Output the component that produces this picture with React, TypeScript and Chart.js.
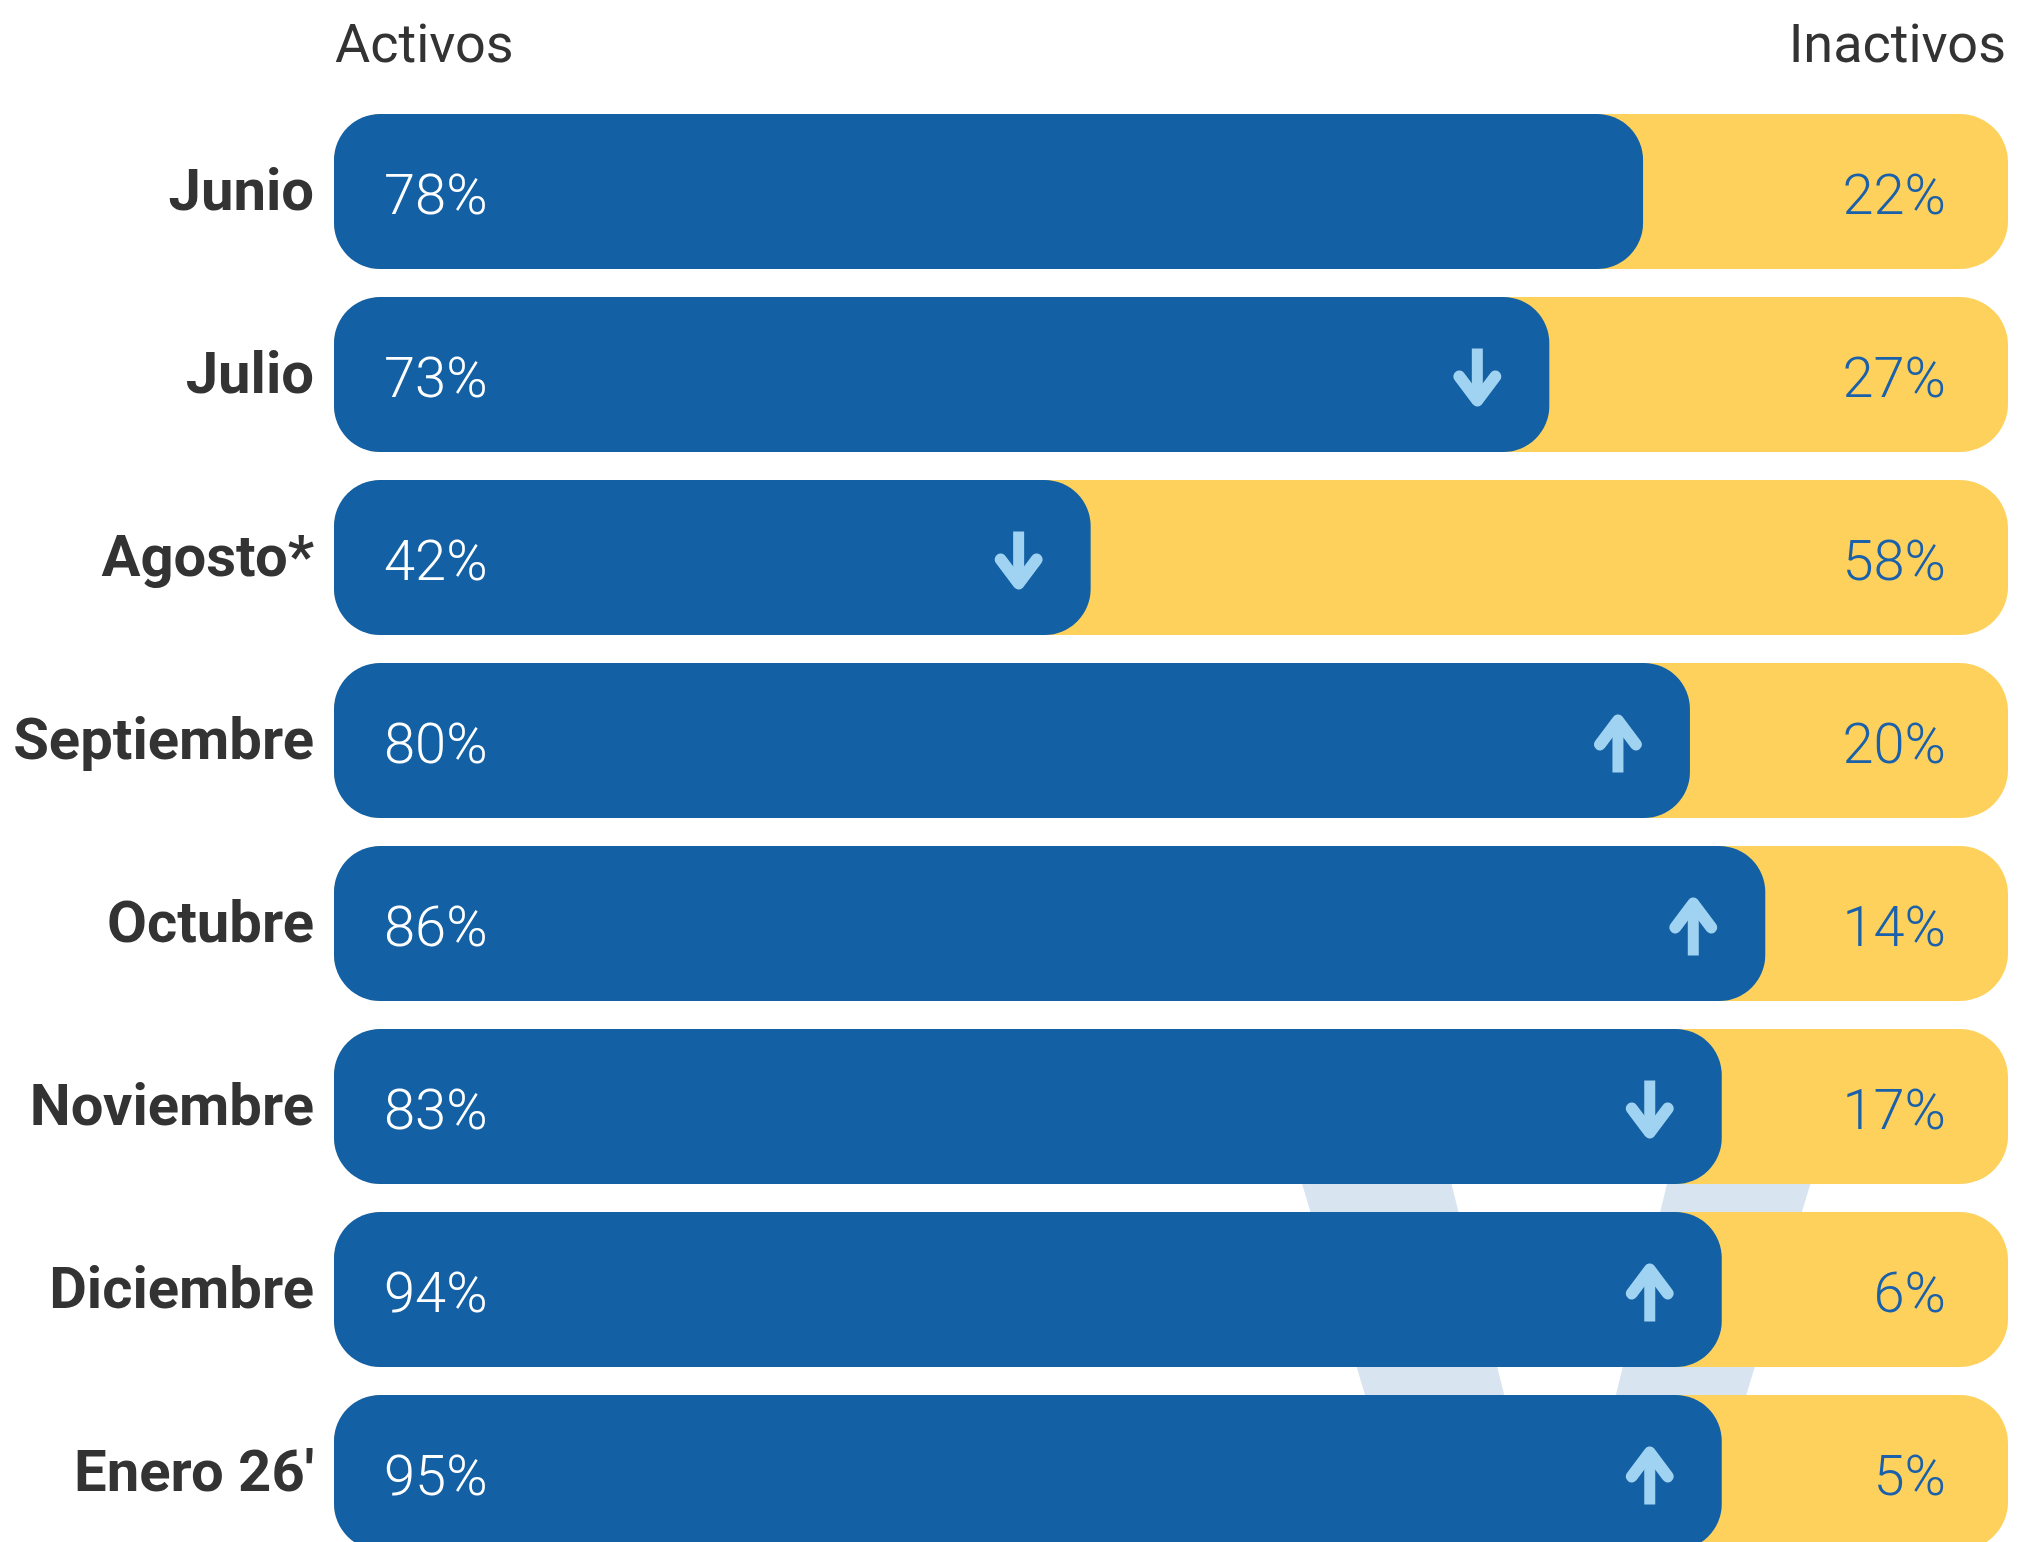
import React, { useEffect, useRef } from 'react';
import { Chart, registerables } from 'chart.js';

Chart.register(...registerables);

// ---- data ----
const categories = ['Junio', 'Julio', 'Agosto*', 'Septiembre', 'Octubre', 'Noviembre', 'Diciembre', "Enero 26'"];
const activosPct = [78, 73, 42, 80, 86, 83, 94, 95];
const inactivosPct = [22, 27, 58, 20, 14, 17, 6, 5];
// bar lengths as drawn in the picture (percent of the full track)
const activosBar = [78.2, 72.6, 45.2, 81.0, 85.5, 82.9, 82.9, 82.9];
const trackEnd = [100, 100, 100, 100, 100, 100, 100, 100];
const trend = ['', 'down', 'down', 'up', 'up', 'down', 'up', 'up'];
const headerLabels = ['Activos', 'Inactivos'];

const BLUE = '#1360a4';
const YELLOW = '#fdd15c';
const ARROW = '#a0d3f2';
const TEXT_BLUE = '#1a60aa';
const DARK = '#333333';
const WATERMARK = '#d8e4ef';
const FONT = 'Roboto, "Noto Sans", sans-serif';

function drawArrow(ctx: CanvasRenderingContext2D, x: number, cy: number, dir: string) {
  const half = 29;
  const s = dir === 'up' ? -1 : 1;
  const tipY = cy + s * half;
  const tailY = cy - s * half;
  ctx.save();
  ctx.strokeStyle = ARROW;
  ctx.lineWidth = 11;
  ctx.lineCap = 'butt';
  ctx.beginPath();
  ctx.moveTo(x, tailY);
  ctx.lineTo(x, tipY - s * 8);
  ctx.stroke();
  ctx.lineWidth = 12;
  ctx.lineCap = 'round';
  ctx.lineJoin = 'round';
  ctx.beginPath();
  ctx.moveTo(x - 18, tipY - s * 30);
  ctx.lineTo(x, tipY - s * 6);
  ctx.lineTo(x + 18, tipY - s * 30);
  ctx.stroke();
  ctx.restore();
}

const watermarkPlugin = {
  id: 'watermark',
  beforeDatasetsDraw(chart: any) {
    const ctx = chart.ctx as CanvasRenderingContext2D;
    const y0 = 1050;
    const y1 = 1600;
    const lx = (a: number, slope: number, y: number) => a + slope * (y - 1186);
    ctx.save();
    ctx.fillStyle = WATERMARK;
    ctx.beginPath();
    ctx.moveTo(lx(1302.7, 0.298, y0), y0);
    ctx.lineTo(lx(1452, 0.25, y0), y0);
    ctx.lineTo(lx(1452, 0.25, y1), y1);
    ctx.lineTo(lx(1302.7, 0.298, y1), y1);
    ctx.closePath();
    ctx.fill();
    ctx.beginPath();
    ctx.moveTo(lx(1666.5, -0.242, y0), y0);
    ctx.lineTo(lx(1809.8, -0.304, y0), y0);
    ctx.lineTo(lx(1809.8, -0.304, y1), y1);
    ctx.lineTo(lx(1666.5, -0.242, y1), y1);
    ctx.closePath();
    ctx.fill();
    ctx.restore();
  },
};

const labelsPlugin = {
  id: 'barLabels',
  afterDatasetsDraw(chart: any) {
    const ctx = chart.ctx as CanvasRenderingContext2D;
    const area = chart.chartArea;
    const meta = chart.getDatasetMeta(0);
    ctx.save();
    ctx.font = `400 54px ${FONT}`;
    ctx.fillStyle = DARK;
    ctx.textBaseline = 'alphabetic';
    ctx.textAlign = 'left';
    ctx.fillText(headerLabels[0], area.left + 1, 62);
    ctx.textAlign = 'right';
    ctx.fillText(headerLabels[1], area.right - 2, 62);

    meta.data.forEach((bar: any, i: number) => {
      const cy = bar.y;
      ctx.font = `300 56px ${FONT}`;
      ctx.textBaseline = 'alphabetic';
      ctx.textAlign = 'left';
      ctx.fillStyle = '#ffffff';
      ctx.fillText(`${activosPct[i]}%`, area.left + 50, cy + 22);
      ctx.textAlign = 'right';
      ctx.fillStyle = TEXT_BLUE;
      ctx.fillText(`${inactivosPct[i]}%`, area.right - 62, cy + 22);
      if (trend[i]) drawArrow(ctx, bar.x - 72, cy + 3, trend[i]);
    });
    ctx.restore();
  },
};

export default function App() {
  const ref = useRef<HTMLCanvasElement | null>(null);

  useEffect(() => {
    if (!ref.current) return;
    const chart = new Chart(ref.current, {
      type: 'bar',
      data: {
        labels: categories,
        datasets: [
          {
            label: 'Activos',
            data: activosBar,
            backgroundColor: BLUE,
            borderRadius: 46,
            borderSkipped: false,
            grouped: false,
            barPercentage: 155 / 183,
            categoryPercentage: 1,
          } as any,
          {
            label: 'Inactivos',
            data: trackEnd,
            backgroundColor: YELLOW,
            borderRadius: 48,
            borderSkipped: false,
            grouped: false,
            barPercentage: 155 / 183,
            categoryPercentage: 1,
          } as any,
        ],
      },
      options: {
        indexAxis: 'y',
        responsive: false,
        animation: false,
        devicePixelRatio: 1,
        layout: { padding: { left: 0, right: 23, top: 100, bottom: 6 } },
        plugins: {
          legend: { display: false },
          tooltip: { enabled: false },
        },
        scales: {
          x: {
            display: false,
            min: 0,
            max: 100,
            stacked: false,
          },
          y: {
            grid: { display: false, drawTicks: false },
            border: { display: false },
            ticks: {
              padding: 20,
              labelOffset: 4,
              color: DARK,
              font: { family: FONT, size: 58, weight: 'bold' },
            },
            afterFit(scale: any) {
              scale.width = 334;
              scale.paddingTop = 0;
              scale.paddingBottom = 0;
            },
          },
        },
      },
      plugins: [watermarkPlugin, labelsPlugin],
    });
    return () => chart.destroy();
  }, []);

  return (
    <div
      style={{
        position: 'fixed',
        top: 0,
        left: 0,
        width: 2031,
        height: 1542,
        overflow: 'hidden',
        background: '#ffffff',
      }}
    >
      <canvas ref={ref} width={2031} height={1570} style={{ display: 'block', width: 2031, height: 1570 }} />
    </div>
  );
}
